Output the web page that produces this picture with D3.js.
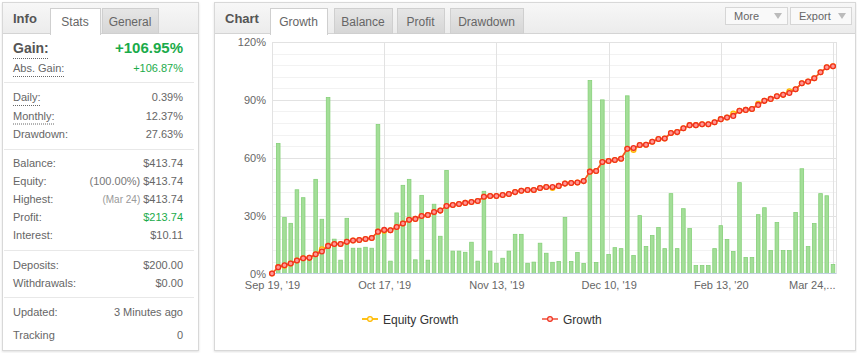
<!DOCTYPE html>
<html>
<head>
<meta charset="utf-8">
<script src="https://cdn.jsdelivr.net/npm/d3@7"></script>
<style>
  body { margin: 0; background: #fff; }
  svg { display: block; font-family: "Liberation Sans", Arial, sans-serif; }
</style>
</head>
<body>
<div id="chart"></div>
<script>
// x axis ticks (category index -> label)
const tickIndex = [0, 18, 36, 54, 72, 90];
const tickLabels = ["Sep 19, '19", "Oct 17, '19", "Nov 13, '19", "Dec 10, '19", "Feb 13, '20", 'Mar 24,...'];
const yTicks = [0, 30, 60, 90, 120];

// growth %, one value per category
const growth = [0, 3.3, 4.3, 5.2, 6.7, 7.9, 8.1, 10.0, 11.4, 14.3, 15.3, 15.3, 16.4, 17.1, 17.4, 17.9, 18.4,
  21.7, 22.6, 22.4, 24.1, 25.9, 27.8, 28.3, 29.8, 30.3, 31.9, 32.6, 35.0, 35.5, 36.0, 36.6, 37.1, 37.6,
  39.8, 40.2, 40.2, 40.7, 41.2, 42.2, 42.9, 43.3, 43.3, 44.3, 44.8, 44.8, 45.4, 46.6, 46.9, 47.2, 47.9,
  52.8, 53.1, 57.8, 58.3, 58.8, 59.5, 64.7, 65.0, 66.6, 66.7, 68.3, 69.7, 70.0, 72.8, 73.3, 75.3, 76.9,
  76.9, 77.4, 77.4, 78.4, 80.0, 80.9, 81.7, 84.3, 84.8, 85.3, 87.4, 89.5, 90.5, 91.9, 92.6, 93.6, 95.5,
  98.6, 99.5, 101.2, 104.3, 106.9, 107.4];
const equityGrowth = [0, 3.3, 4.0, 5.2, 6.7, 7.9, 8.1, 10.0, 12.6, 14.3, 15.3, 15.3, 16.4, 17.1, 17.4, 17.9, 18.4,
  21.7, 22.1, 22.4, 24.1, 25.9, 27.8, 28.3, 29.8, 30.3, 31.9, 32.6, 35.0, 35.5, 36.0, 36.6, 37.1, 37.6,
  39.8, 40.2, 40.2, 40.7, 41.2, 42.2, 42.9, 43.3, 43.3, 44.3, 44.8, 44.3, 45.4, 46.6, 46.9, 47.2, 47.9,
  52.8, 53.1, 57.8, 58.3, 58.8, 59.5, 64.7, 64.0, 66.6, 66.7, 68.3, 69.7, 70.0, 72.8, 73.3, 75.3, 76.9,
  76.9, 77.4, 77.4, 78.4, 80.0, 80.9, 82.9, 84.3, 84.8, 85.3, 88.0, 89.5, 90.5, 91.9, 92.6, 94.5, 95.5,
  98.6, 99.5, 101.2, 104.3, 106.9, 107.4];
// daily bars %, first category has none
const dailyBars = [null, 67.4, 29.0, 26.0, 43.4, 39.3, 8.0, 48.8, 28.1, 91.2, 17.8, 6.9, 28.6, 13.1, 13.1, 13.6, 13.1,
  77.2, 23.0, 6.4, 31.4, 45.7, 48.8, 7.1, 40.5, 6.9, 35.9, 19.3, 53.4, 11.6, 11.6, 11.0, 16.2, 6.4,
  42.6, 11.6, 5.3, 7.9, 11.6, 20.3, 20.3, 5.3, 5.9, 15.7, 10.5, 5.8, 6.2, 29.0, 6.2, 10.9, 5.2,
  100.0, 5.7, 90.0, 9.8, 13.4, 12.9, 92.1, 9.3, 30.0, 14.0, 19.7, 23.8, 12.9, 41.4, 12.9, 33.6, 23.3,
  4.1, 4.1, 4.1, 12.9, 24.8, 17.6, 11.4, 47.1, 8.3, 8.3, 30.5, 34.1, 11.9, 26.4, 11.9, 11.9, 31.6,
  54.3, 14.0, 25.9, 41.4, 40.3, 4.7];

// info panel rows: [label, note, value, green, underline]
const gainRows = [['Abs. Gain:', '', '+106.87%', true, true]];
const rateRows = [['Daily:', '', '0.39%', false, true], ['Monthly:', '', '12.37%', false, true], ['Drawdown:', '', '27.63%', false, false]];
const moneyRows = [['Balance:', '', '$413.74', false], ['Equity:', '(100.00%)', '$413.74', false], ['Highest:', '(Mar 24)', '$413.74', false],
  ['Profit:', '', '$213.74', true], ['Interest:', '', '$10.11', false]];
const cashRows = [['Deposits:', '', '$200.00', false], ['Withdrawals:', '', '$0.00', false]];

const svg = d3.select('#chart').append('svg')
  .attr('width', 857)
  .attr('height', 353);

const defs = svg.append('defs');
const hg = defs.append('linearGradient').attr('id', 'hdr').attr('x1', 0).attr('y1', 0).attr('x2', 0).attr('y2', 1);
hg.append('stop').attr('offset', '0%').attr('stop-color', '#f7f7f7');
hg.append('stop').attr('offset', '100%').attr('stop-color', '#ececec');
const tg = defs.append('linearGradient').attr('id', 'tab').attr('x1', 0).attr('y1', 0).attr('x2', 0).attr('y2', 1);
tg.append('stop').attr('offset', '0%').attr('stop-color', '#e6e6e6');
tg.append('stop').attr('offset', '100%').attr('stop-color', '#d6d6d6');
const sh = defs.append('filter').attr('id', 'shadow').attr('x', '-5%').attr('y', '-5%').attr('width', '110%').attr('height', '110%');
sh.append('feDropShadow').attr('dx', 0).attr('dy', 1).attr('stdDeviation', 1).attr('flood-color', '#000').attr('flood-opacity', 0.12);

const panel = (x, y, w, h, title, tabs) => {
  const g = svg.append('g');
  g.append('rect').attr('x', x + 0.5).attr('y', y + 0.5).attr('width', w).attr('height', h)
    .attr('fill', '#fff').attr('stroke', '#d8d8d8').attr('filter', 'url(#shadow)');
  g.append('rect').attr('x', x + 1).attr('y', y + 1).attr('width', w - 1).attr('height', 30).attr('fill', 'url(#hdr)');
  g.append('line').attr('x1', x + 1).attr('x2', x + w).attr('y1', y + 31.5).attr('y2', y + 31.5).attr('stroke', '#d4d4d4');
  g.append('text').attr('x', x + 11).attr('y', y + 21).text(title)
    .attr('font-size', '13px').attr('font-weight', 'bold').attr('fill', '#555');
  tabs.forEach((t) => {
    g.append('rect').attr('x', t.x + 0.5).attr('y', y + 6.5).attr('width', t.w).attr('height', t.active ? 26 : 25)
      .attr('fill', t.active ? '#fff' : 'url(#tab)').attr('stroke', '#cfcfcf');
    if (t.active) {
      g.append('rect').attr('x', t.x + 1).attr('y', y + 30).attr('width', t.w - 1).attr('height', 3).attr('fill', '#fff');
    }
    g.append('text').attr('x', t.x + t.w / 2).attr('y', y + 24).attr('text-anchor', 'middle').text(t.label)
      .attr('font-size', '12px').attr('fill', '#666');
  });
  return g;
};

// ---------- info panel ----------
const info = panel(2, 2, 196, 348, 'Info', [
  { x: 50, w: 50, label: 'Stats', active: true },
  { x: 102, w: 56, label: 'General', active: false },
]);
const LX = 13;
const RX = 183;
const green = '#1aab4a';

const underline = (x, y, w) => info.append('line').attr('x1', x).attr('x2', x + w).attr('y1', y).attr('y2', y)
  .attr('stroke', '#666').attr('stroke-dasharray', '1,1');

const t1 = info.append('text').attr('x', LX).attr('y', 53).text('Gain:')
  .attr('font-size', '14px').attr('font-weight', 'bold').attr('fill', '#555');
underline(LX, 58.5, t1.node().getComputedTextLength());
info.append('text').attr('x', RX).attr('y', 53).attr('text-anchor', 'end').text('+106.95%')
  .attr('font-size', '15px').attr('font-weight', 'bold').attr('fill', green);

const rows = (list, y0, step) => {
  list.forEach((r, i) => {
    const y = y0 + i * step;
    const lab = info.append('text').attr('x', LX).attr('y', y).text(r[0]).attr('font-size', '11px').attr('fill', '#666');
    if (r[4]) underline(LX, y + 4.5, lab.node().getComputedTextLength());
    const v = info.append('text').attr('x', RX).attr('y', y).attr('text-anchor', 'end').text(r[2])
      .attr('font-size', '11px').attr('fill', r[3] ? green : '#666');
    if (r[1]) {
      const vw = v.node().getComputedTextLength();
      info.append('text').attr('x', RX - vw - 3).attr('y', y).attr('text-anchor', 'end').text(r[1])
        .attr('font-size', r[1][0] === '(' && r[1].length < 9 ? '10px' : '11px')
        .attr('fill', r[1].length < 9 ? '#999' : '#777');
    }
  });
};
rows(gainRows, 72, 18);
rows(rateRows, 101, 18.5);
rows(moneyRows, 167, 18);
rows(cashRows, 269, 18);
rows([['Updated:', '', '3 Minutes ago', false]], 316, 18);
rows([['Tracking', '', '0', false]], 339, 18);

[82.5, 149.5, 250.5, 297.5].forEach((y) => {
  info.append('line').attr('x1', 4).attr('x2', 194).attr('y1', y).attr('y2', y).attr('stroke', '#e8e8e8');
});

// ---------- chart panel ----------
const cp = panel(214, 2, 641, 348, 'Chart', [
  { x: 270, w: 57, label: 'Growth', active: true },
  { x: 334, w: 58, label: 'Balance', active: false },
  { x: 397, w: 47, label: 'Profit', active: false },
  { x: 450, w: 73, label: 'Drawdown', active: false },
]);
[{ x: 725, w: 62, label: 'More' }, { x: 790, w: 61, label: 'Export' }].forEach((b) => {
  cp.append('rect').attr('x', b.x + 0.5).attr('y', 7.5).attr('width', b.w).attr('height', 17)
    .attr('fill', '#f9f9f9').attr('stroke', '#d6d6d6');
  cp.append('text').attr('x', b.x + 9).attr('y', 20).text(b.label).attr('font-size', '11px').attr('fill', '#666');
  const tx = b.x + b.w - 13;
  cp.append('path').attr('d', `M${tx},13 L${tx + 8},13 L${tx + 4},19 Z`).attr('fill', '#bbb');
});

const x = d3.scaleLinear().domain([0, 90]).range([272, 833]);
const y = d3.scaleLinear().domain([0, 120]).range([273.5, 42]);
const plotRight = 836.5;

const grid = svg.append('g');
grid.selectAll('.minor').data(d3.range(6, 120, 6).filter((v) => v % 30 !== 0)).enter().append('line')
  .attr('x1', x(0)).attr('x2', plotRight).attr('y1', (d) => Math.round(y(d)) + 0.5).attr('y2', (d) => Math.round(y(d)) + 0.5)
  .attr('stroke', '#f2f2f2');
grid.selectAll('.major').data(yTicks.slice(1)).enter().append('line')
  .attr('x1', x(0)).attr('x2', plotRight).attr('y1', (d) => Math.round(y(d)) + 0.5).attr('y2', (d) => Math.round(y(d)) + 0.5)
  .attr('stroke', '#e2e2e2');
grid.selectAll('.vert').data(tickIndex).enter().append('line')
  .attr('x1', (d) => Math.round(x(d)) + 0.5).attr('x2', (d) => Math.round(x(d)) + 0.5)
  .attr('y1', y(120)).attr('y2', y(0)).attr('stroke', '#e2e2e2');
grid.append('line').attr('x1', plotRight).attr('x2', plotRight).attr('y1', y(120)).attr('y2', y(0)).attr('stroke', '#e2e2e2');

// bars
svg.append('g').selectAll('rect').data(dailyBars.map((v, i) => ({ v, i })).filter((d) => d.v !== null))
  .enter().append('rect')
  .attr('x', (d) => x(d.i) - 1.8)
  .attr('y', (d) => y(d.v))
  .attr('width', 3.6)
  .attr('height', (d) => y(0) - y(d.v))
  .attr('fill', '#a3de98')
  .attr('stroke', '#86d079')
  .attr('stroke-width', 0.8);

// bottom axis line
svg.append('line').attr('x1', x(0)).attr('x2', plotRight).attr('y1', 273.5).attr('y2', 273.5).attr('stroke', '#c0d0e0');

const series = (vals, lineColor, markFill, markStroke) => {
  const g = svg.append('g');
  g.append('path').datum(vals)
    .attr('d', d3.line().x((d, i) => x(i)).y((d) => y(d)))
    .attr('fill', 'none').attr('stroke', lineColor).attr('stroke-width', 1.6);
  g.selectAll('circle').data(vals).enter().append('circle')
    .attr('cx', (d, i) => x(i)).attr('cy', (d) => y(d)).attr('r', 2.4)
    .attr('fill', markFill).attr('stroke', markStroke).attr('stroke-width', 1.3);
};
series(equityGrowth, '#ffc21a', '#ffe08a', '#ffb800');
series(growth, '#f4502a', '#ff9a94', '#f0301e');

// axes
svg.append('g')
  .attr('transform', 'translate(266,0)')
  .call(d3.axisLeft(y).tickValues(yTicks).tickFormat((d) => `${d}%`).tickSize(0).tickPadding(0))
  .call((g) => g.select('.domain').remove())
  .selectAll('text').attr('font-size', '11px').attr('fill', '#666').attr('font-family', '"Liberation Sans", Arial, sans-serif');

const xa = svg.append('g')
  .attr('transform', 'translate(0,281)')
  .call(d3.axisBottom(x).tickValues(tickIndex).tickFormat((d, i) => tickLabels[i]).tickSize(0).tickPadding(0))
  .call((g) => g.select('.domain').remove());
xa.selectAll('text').attr('font-size', '11px').attr('fill', '#666').attr('font-family', '"Liberation Sans", Arial, sans-serif');
xa.selectAll('.tick').filter((d) => d === 90).select('text').attr('text-anchor', 'end').attr('dx', 2);

// legend
const legend = [
  { label: 'Equity Growth', x: 362, line: '#ffc21a', fill: '#fff8d8', stroke: '#ffb800' },
  { label: 'Growth', x: 542, line: '#f47a6a', fill: '#ffd0cc', stroke: '#f0301e' },
];
legend.forEach((l) => {
  svg.append('line').attr('x1', l.x).attr('x2', l.x + 16).attr('y1', 319).attr('y2', 319)
    .attr('stroke', l.line).attr('stroke-width', 2);
  svg.append('circle').attr('cx', l.x + 8).attr('cy', 319).attr('r', 2.4)
    .attr('fill', l.fill).attr('stroke', l.stroke).attr('stroke-width', 1.2);
  svg.append('text').attr('x', l.x + 21).attr('y', 323.5).text(l.label).attr('font-size', '12px').attr('fill', '#333');
});
</script>
</body>
</html>
